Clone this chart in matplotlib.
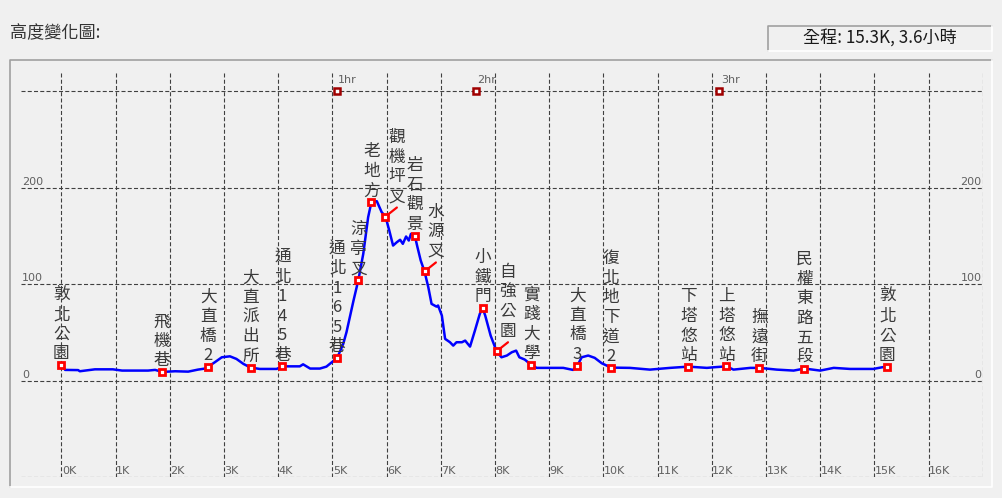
import matplotlib
matplotlib.use('Agg')
import matplotlib.pyplot as plt
from matplotlib.lines import Line2D

plt.rcParams['font.family'] = ['Noto Sans CJK TC', 'DejaVu Sans']
plt.rcParams['lines.scale_dashes'] = False

# elevation profile: distance (km) and height (m)
dist_km = [0.00, 0.07, 0.31, 0.34, 0.62, 0.95, 1.12, 1.60, 1.73, 1.86,
           2.10, 2.34, 2.52, 2.65, 2.71, 2.83, 2.96, 3.11, 3.23, 3.36,
           3.48, 3.50, 3.66, 3.97, 4.08, 4.40, 4.46, 4.59, 4.77, 4.89,
           5.09, 5.20, 5.26, 5.39, 5.48, 5.57, 5.66, 5.72, 5.82, 5.91,
           5.98, 6.05, 6.12, 6.19, 6.25, 6.30, 6.36, 6.41, 6.45, 6.52,
           6.57, 6.63, 6.70, 6.77, 6.83, 6.92, 6.95, 7.02, 7.08, 7.17,
           7.23, 7.29, 7.39, 7.45, 7.49, 7.54, 7.63, 7.72, 7.77, 7.82,
           7.92, 8.03, 8.12, 8.22, 8.31, 8.39, 8.45, 8.55, 8.67, 8.77,
           9.01, 9.26, 9.44, 9.52, 9.60, 9.72, 9.84, 9.97, 10.14, 10.49,
           10.86, 11.23, 11.57, 11.91, 12.03, 12.27, 12.40, 12.71, 12.88, 13.20,
           13.51, 13.71, 14.00, 14.25, 14.55, 14.98, 15.14, 15.24]
elev_m = [16.3, 11.1, 10.9, 9.7, 11.7, 11.7, 10.4, 10.4, 11.1, 9.0,
          9.7, 9.3, 11.4, 12.5, 14.5, 19.0, 24.2, 25.2, 22.5, 17.3,
          13.8, 13.5, 12.1, 12.1, 14.8, 14.8, 16.9, 12.5, 12.5, 14.5,
          23.6, 38.1, 50.1, 83.0, 104.5, 131.5, 169.5, 185.1, 186.1, 174.7,
          170.2, 155.7, 140.1, 143.6, 146.1, 141.9, 149.5, 145.3, 152.3, 150.5,
          138.4, 124.6, 113.2, 96.9, 79.6, 76.8, 77.9, 67.5, 43.3, 39.8,
          36.3, 39.8, 39.8, 41.5, 38.7, 35.3, 51.9, 69.2, 75.5, 67.5,
          46.7, 30.4, 24.2, 26.0, 29.4, 31.1, 24.2, 21.8, 16.3, 13.2,
          13.2, 13.2, 11.1, 15.6, 24.2, 26.0, 23.6, 18.0, 13.5, 13.2,
          11.4, 13.2, 14.5, 13.2, 13.8, 14.8, 11.4, 13.2, 13.2, 11.4,
          10.4, 12.5, 10.4, 13.2, 12.1, 12.1, 13.8, 14.5]

# waypoints along the route
wp_names = ['敦北公園', '飛機巷', '大直橋2', '大直派出所', '通北145巷', '通北165巷',
            '涼亭叉', '老地方', '觀機坪叉', '岩石觀景', '水源叉', '小鐵門',
            '自強公園', '實踐大學', '大直橋3', '復北地下道2', '下塔悠站', '上塔悠站',
            '撫遠街', '民權東路五段', '敦北公園']
wp_km = [0.00, 1.86, 2.71, 3.50, 4.08, 5.09, 5.48, 5.72, 5.98, 6.52, 6.70,
         7.77, 8.03, 8.67, 9.52, 10.14, 11.57, 12.27, 12.88, 13.71, 15.24]
wp_elev = [16.3, 9.0, 14.5, 13.5, 14.8, 23.6, 104.5, 185.1, 170.2, 150.5, 113.2,
           75.5, 30.4, 16.3, 15.6, 13.5, 14.5, 14.8, 13.2, 12.5, 14.5]
wp_stalk = ['觀機坪叉', '水源叉', '自強公園']   # labels pushed aside on a red tick

hr_labels = ['1hr', '2hr', '3hr']
hr_km = [5.08, 7.65, 12.14]

km_ticks = list(range(0, 18))
elev_ticks = [0, 100, 200]

title = '高度變化圖:'
summary = '全程: 15.3K, 3.6小時'

W, H = 1003, 498
fig = plt.figure(figsize=(W / 100, H / 100), dpi=100)
fig.patch.set_facecolor('#f0f0f0')


def fx(x):
    return x / W


def fy(y):
    return 1 - y / H


def sunken(x0, y0, x1, y1):
    # win32 style sunken frame: dark top/left, white bottom/right
    fig.add_artist(Line2D([fx(x0), fx(x0), fx(x1)], [fy(y1), fy(y0), fy(y0)],
                          color='#a0a0a0', lw=1.2))
    fig.add_artist(Line2D([fx(x1), fx(x1), fx(x0)], [fy(y0), fy(y1), fy(y1)],
                          color='white', lw=1.2))


sunken(10, 60, 992, 487)
sunken(768, 26, 992, 51)

fig.text(fx(10), fy(33), title, fontsize=12.3, color='#333333', va='center')
fig.text(fx(880), fy(38.5), summary, fontsize=12.3, color='#1a1a1a',
         ha='center', va='center')

ax = fig.add_axes([fx(20.7), fy(477), fx(982.8 - 20.7), (477 - 70.7) / H])
ax.set_xlim(-0.75, 17)
ax.set_ylim(-100, 321.5)
ax.axis('off')

grid_kw = dict(colors='#404040', linewidth=0.8, linestyles=[(0, (2.9, 1.6))])
ax.vlines(km_ticks, -100, 321.5, **grid_kw)
ax.hlines([-100, 0, 100, 200, 300], -0.75, 17, **grid_kw)

for k in km_ticks[:-1]:
    ax.annotate(f'{k}K', xy=(k, -100), xytext=(0.3, 2.2), textcoords='offset points',
                fontsize=8, color='#606060', family='DejaVu Sans', va='baseline')
for v in elev_ticks:
    ax.annotate(str(v), xy=(-0.75, v), xytext=(0.8, 2), textcoords='offset points',
                fontsize=8, color='#606060', family='DejaVu Sans', va='baseline')
    ax.annotate(str(v), xy=(17, v), xytext=(-1, 2), textcoords='offset points',
                fontsize=8, color='#606060', family='DejaVu Sans', va='baseline', ha='right')

ax.plot(dist_km, elev_m, color='#0000ff', lw=1.8, solid_joinstyle='round', zorder=3)

ax.plot(hr_km, [300] * len(hr_km), 's', ms=4, mfc='white', mec='#a00000', mew=1.8,
        ls='none', zorder=4)
for lbl, k in zip(hr_labels, hr_km):
    ax.annotate(lbl, xy=(k, 300), xytext=(1, 6), textcoords='offset points',
                fontsize=8, color='#606060', family='DejaVu Sans', va='baseline')

for name, k, m in zip(wp_names, wp_km, wp_elev):
    dx, dy = 0, 1.8
    if name in wp_stalk:
        ax.annotate('', xy=(k, m), xytext=(8.2, 6.5), textcoords='offset points',
                    arrowprops=dict(arrowstyle='-', color='red', lw=1.6,
                                    shrinkA=0, shrinkB=0), zorder=4)
        dx, dy = 8.2, 8.3
    ax.annotate('\n'.join(name), xy=(k, m), xytext=(dx, dy), textcoords='offset points',
                ha='center', va='bottom', fontsize=12, color='#3a3a3a',
                linespacing=1.2, zorder=5)

ax.plot(wp_km, wp_elev, 's', ms=4.6, mfc='white', mec='red', mew=2.0, ls='none',
        zorder=6)

fig.savefig('out.png', dpi=100, facecolor=fig.get_facecolor())
